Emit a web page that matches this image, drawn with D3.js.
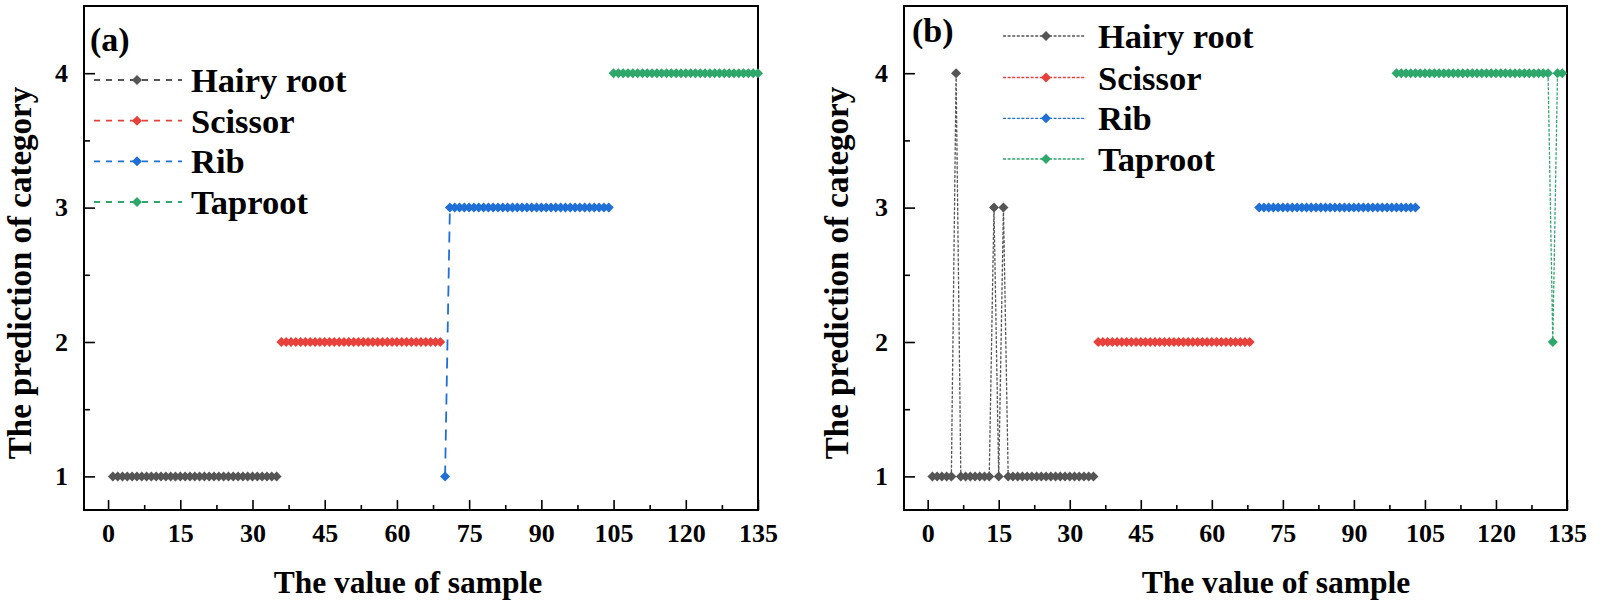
<!DOCTYPE html>
<html>
<head>
<meta charset="utf-8">
<script src="https://cdn.jsdelivr.net/npm/d3@7"></script>
<style>
  html, body { margin: 0; padding: 0; background: #fff; }
  svg { display: block; }
  text { font-family: "Liberation Serif", "Times New Roman", serif; font-weight: bold; fill: #000; }
</style>
</head>
<body>
<svg id="chart" width="1600" height="603"></svg>
<script>
// ---------------- DATA ----------------
const seriesNames = ["Hairy root", "Scissor", "Rib", "Taproot"];
const seriesColors = ["#555555", "#E8413C", "#1F6FD6", "#2EA76B"];
const xTicks = [0, 15, 30, 45, 60, 75, 90, 105, 120, 135];
const xMinorTicks = [7.5, 22.5, 37.5, 52.5, 67.5, 82.5, 97.5, 112.5, 127.5];
const yTicks = [1, 2, 3, 4];
const yMinorTicks = [1.5, 2.5, 3.5];

// Panel (a)
const hairyA_x = [1,2,3,4,5,6,7,8,9,10,11,12,13,14,15,16,17,18,19,20,21,22,23,24,25,26,27,28,29,30,31,32,33,34,35];
const hairyA_y = [1,1,1,1,1,1,1,1,1,1,1,1,1,1,1,1,1,1,1,1,1,1,1,1,1,1,1,1,1,1,1,1,1,1,1];
const scissorA_x = [36,37,38,39,40,41,42,43,44,45,46,47,48,49,50,51,52,53,54,55,56,57,58,59,60,61,62,63,64,65,66,67,68,69];
const scissorA_y = [2,2,2,2,2,2,2,2,2,2,2,2,2,2,2,2,2,2,2,2,2,2,2,2,2,2,2,2,2,2,2,2,2,2];
const ribA_x = [70,71,72,73,74,75,76,77,78,79,80,81,82,83,84,85,86,87,88,89,90,91,92,93,94,95,96,97,98,99,100,101,102,103,104];
const ribA_y = [1,3,3,3,3,3,3,3,3,3,3,3,3,3,3,3,3,3,3,3,3,3,3,3,3,3,3,3,3,3,3,3,3,3,3];
const taprootA_x = [105,106,107,108,109,110,111,112,113,114,115,116,117,118,119,120,121,122,123,124,125,126,127,128,129,130,131,132,133,134,135];
const taprootA_y = [4,4,4,4,4,4,4,4,4,4,4,4,4,4,4,4,4,4,4,4,4,4,4,4,4,4,4,4,4,4,4];

// Panel (b)
const hairyB_x = [1,2,3,4,5,6,7,8,9,10,11,12,13,14,15,16,17,18,19,20,21,22,23,24,25,26,27,28,29,30,31,32,33,34,35];
const hairyB_y = [1,1,1,1,1,4,1,1,1,1,1,1,1,3,1,3,1,1,1,1,1,1,1,1,1,1,1,1,1,1,1,1,1,1,1];
const scissorB_x = [36,37,38,39,40,41,42,43,44,45,46,47,48,49,50,51,52,53,54,55,56,57,58,59,60,61,62,63,64,65,66,67,68];
const scissorB_y = [2,2,2,2,2,2,2,2,2,2,2,2,2,2,2,2,2,2,2,2,2,2,2,2,2,2,2,2,2,2,2,2,2];
const ribB_x = [70,71,72,73,74,75,76,77,78,79,80,81,82,83,84,85,86,87,88,89,90,91,92,93,94,95,96,97,98,99,100,101,102,103];
const ribB_y = [3,3,3,3,3,3,3,3,3,3,3,3,3,3,3,3,3,3,3,3,3,3,3,3,3,3,3,3,3,3,3,3,3,3];
const taprootB_x = [99,100,101,102,103,104,105,106,107,108,109,110,111,112,113,114,115,116,117,118,119,120,121,122,123,124,125,126,127,128,129,130,131,132,133,134];
const taprootB_y = [4,4,4,4,4,4,4,4,4,4,4,4,4,4,4,4,4,4,4,4,4,4,4,4,4,4,4,4,4,4,4,4,4,2,4,4];

const xTitle = "The value of sample";
const yTitle = "The prediction of category";

// ---------------- DRAW ----------------
const svg = d3.select("#chart");
const zip = (xs, ys) => xs.map((v, i) => [v, ys[i]]);

const diamond = {
  draw(ctx, size) {
    const r = Math.sqrt(size / 2);
    ctx.moveTo(0, -r); ctx.lineTo(r, 0); ctx.lineTo(0, r); ctx.lineTo(-r, 0); ctx.closePath();
  }
};

const panels = [
  {
    label: "(a)", left: 84, right: 758, top: 6, bottom: 510,
    labelPos: [90, 51], xTitleX: 408, yTitleX: 20,
    series: [zip(hairyA_x, hairyA_y), zip(scissorA_x, scissorA_y), zip(ribA_x, ribA_y), zip(taprootA_x, taprootA_y)],
    dash: "11,7", lineW: 1.8,
    legend: { x1: 94, x2: 182, xm: 137, xt: 191, ys: [80, 120.7, 161.3, 202], dash: "6,6" }
  },
  {
    label: "(b)", left: 904, right: 1567, top: 6, bottom: 510,
    labelPos: [912, 42], xTitleX: 1276, yTitleX: 837,
    series: [zip(hairyB_x, hairyB_y), zip(scissorB_x, scissorB_y), zip(ribB_x, ribB_y), zip(taprootB_x, taprootB_y)],
    dash: "3,1.6", lineW: 1.3,
    legend: { x1: 1003, x2: 1085, xm: 1046, xt: 1098, ys: [36, 77.5, 118.3, 159], dash: "3,1.6" }
  }
];

panels.forEach(p => {
  const g = svg.append("g");
  const x = d3.scaleLinear().domain([-5, 135]).range([p.left, p.right]);
  const y = d3.scaleLinear().domain([0.75, 4.5]).range([p.bottom, p.top]);

  // minor ticks
  g.append("g").attr("transform", `translate(0,${p.bottom})`)
    .call(d3.axisBottom(x).tickValues(xMinorTicks).tickSize(-5).tickFormat(""))
    .call(a => a.select(".domain").remove())
    .call(a => a.selectAll("line").attr("stroke-width", 1.6));
  g.append("g").attr("transform", `translate(${p.left},0)`)
    .call(d3.axisLeft(y).tickValues(yMinorTicks).tickSize(-6).tickFormat(""))
    .call(a => a.select(".domain").remove())
    .call(a => a.selectAll("line").attr("stroke-width", 1.6));

  // major ticks
  g.append("g").attr("transform", `translate(0,${p.bottom})`)
    .call(d3.axisBottom(x).tickValues(xTicks).tickSize(-10).tickPadding(14).tickFormat(d3.format("d")))
    .call(a => a.select(".domain").remove())
    .call(a => a.selectAll("line").attr("stroke-width", 1.6))
    .call(a => a.selectAll("text").attr("font-size", 26).attr("font-family", null).style("font-family", "Liberation Serif").style("font-weight", "bold"));
  g.append("g").attr("transform", `translate(${p.left},0)`)
    .call(d3.axisLeft(y).tickValues(yTicks).tickSize(-11).tickPadding(16).tickFormat(d3.format("d")))
    .call(a => a.select(".domain").remove())
    .call(a => a.selectAll("line").attr("stroke-width", 1.6))
    .call(a => a.selectAll("text").attr("font-size", 26).attr("font-family", null).style("font-family", "Liberation Serif").style("font-weight", "bold"));

  // frame
  g.append("rect")
    .attr("x", p.left).attr("y", p.top)
    .attr("width", p.right - p.left).attr("height", p.bottom - p.top)
    .attr("fill", "none").attr("stroke", "#000").attr("stroke-width", 2);

  // series
  const line = d3.line().x(d => x(d[0])).y(d => y(d[1]));
  const sym = d3.symbol().type(diamond).size(50);
  p.series.forEach((data, i) => {
    g.append("path").datum(data)
      .attr("d", line).attr("fill", "none")
      .attr("stroke", seriesColors[i]).attr("stroke-width", p.lineW)
      .attr("stroke-dasharray", p.dash);
    g.append("g").selectAll("path").data(data).join("path")
      .attr("d", sym)
      .attr("transform", d => `translate(${x(d[0])},${y(d[1])})`)
      .attr("fill", seriesColors[i]);
  });

  // legend
  const L = p.legend;
  seriesNames.forEach((name, i) => {
    const ly = L.ys[i];
    g.append("line").attr("x1", L.x1).attr("x2", L.x2).attr("y1", ly).attr("y2", ly)
      .attr("stroke", seriesColors[i]).attr("stroke-width", p.lineW).attr("stroke-dasharray", L.dash);
    g.append("path").attr("d", d3.symbol().type(diamond).size(50)())
      .attr("transform", `translate(${L.xm},${ly})`).attr("fill", seriesColors[i]);
    g.append("text").attr("x", L.xt).attr("y", ly + 12).attr("font-size", 34.5).text(name);
  });

  // panel label
  g.append("text").attr("x", p.labelPos[0]).attr("y", p.labelPos[1]).attr("font-size", 34).text(p.label);

  // axis titles
  g.append("text").attr("x", p.xTitleX).attr("y", 593).attr("text-anchor", "middle")
    .attr("font-size", 31.5).text(xTitle);
  g.append("text").attr("transform", `translate(${p.yTitleX + 11},${273}) rotate(-90)`)
    .attr("text-anchor", "middle").attr("font-size", 33).text(yTitle);
});
</script>
</body>
</html>
